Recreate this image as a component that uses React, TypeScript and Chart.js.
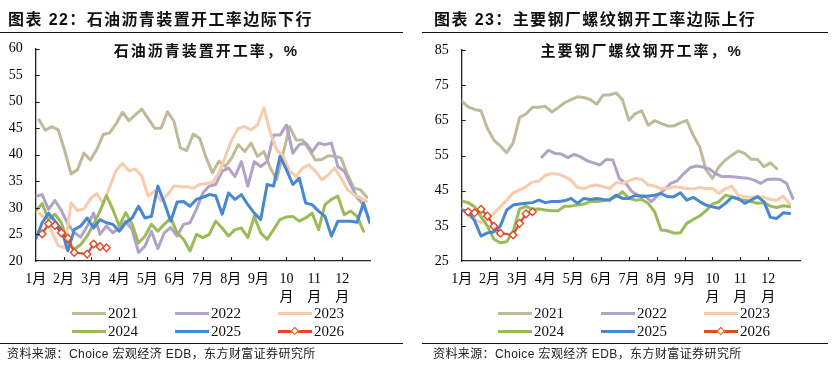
import React, { useEffect, useRef } from 'react';
import { Chart, registerables } from 'chart.js';

Chart.register(...registerables);

// ---------- shared labels ----------
const monthLabels: (string | string[])[] = ['1月', '2月', '3月', '4月', '5月', '6月', '7月', '8月', '9月', ['10', '月'], ['11', '月'], ['12', '月']];
const years = ['2021', '2022', '2023', '2024', '2025', '2026'];
const yearColors = ['#BFBB98', '#B3A2C7', '#F8CBAD', '#9BBB59', '#4788D0', '#DE4A25'];

// ---------- left chart: 石油沥青装置开工率 (weekly, %) ----------
const asphalt2021 = [46.6, 44.6, 45.3, 44.7, 40.8, 36.4, 37.2, 40.3, 39.0, 41.0, 43.8, 44.1, 45.8, 48.0, 46.4, 47.5, 48.6, 46.8, 45.0, 45.0, 48.1, 46.3, 41.3, 40.8, 43.9, 43.1, 39.5, 36.6, 38.8, 37.8, 39.4, 41.9, 40.6, 42.2, 39.7, 40.6, 37.5, 35.3, 40.3, 45.3, 42.8, 42.8, 41.0, 39.0, 39.1, 39.8, 39.7, 39.4, 36.3, 33.7, 33.4, 32.0];
const asphalt2022 = [32.2, 32.5, 29.7, 31.4, 29.5, 27.0, 25.3, 24.5, 26.5, 29.0, 25.0, 26.6, 25.3, 26.2, 27.5, 25.9, 21.6, 22.8, 25.6, 22.3, 25.3, 26.3, 24.7, 26.9, 27.2, 29.7, 32.8, 34.1, 34.4, 36.9, 37.5, 35.9, 38.7, 34.1, 38.7, 37.8, 38.7, 43.7, 43.7, 45.6, 40.3, 41.9, 42.2, 40.6, 42.2, 41.9, 42.2, 37.8, 36.9, 34.4, 31.9, 30.6, 27.2];
const asphalt2023 = [29.0, 28.0, 25.5, 22.9, 22.5, 30.9, 29.5, 29.8, 31.7, 32.7, 30.8, 33.9, 37.0, 38.4, 37.0, 37.3, 36.0, 32.2, 33.2, 31.3, 32.5, 34.1, 34.0, 34.0, 33.7, 34.4, 34.6, 34.8, 36.6, 39.7, 42.8, 45.0, 45.3, 44.7, 45.6, 48.8, 44.1, 40.9, 39.7, 36.9, 35.9, 37.5, 38.1, 36.9, 35.3, 36.2, 37.5, 35.6, 33.4, 32.5, 31.9, 31.2];
const asphalt2024 = [29.4, 30.8, 27.8, 28.8, 27.2, 23.4, 22.2, 23.1, 24.7, 26.9, 29.4, 32.3, 29.7, 26.6, 29.1, 26.9, 23.4, 24.7, 26.9, 25.6, 26.9, 28.1, 25.3, 24.1, 21.9, 25.0, 24.4, 25.0, 27.5, 26.2, 24.7, 25.9, 26.2, 24.4, 28.4, 25.3, 24.1, 25.9, 27.8, 28.3, 28.4, 27.5, 28.1, 29.0, 25.9, 30.6, 31.6, 32.2, 28.7, 29.4, 28.4, 25.6];
const asphalt2025 = [24.1, 27.2, 29.0, 27.5, 25.9, 21.9, 25.9, 26.6, 28.1, 26.2, 27.8, 27.2, 26.9, 25.6, 27.2, 28.1, 30.3, 28.1, 28.4, 34.1, 31.0, 27.5, 31.1, 31.2, 30.3, 31.6, 32.0, 32.5, 32.3, 28.8, 32.8, 31.6, 32.5, 30.6, 29.0, 27.8, 34.4, 34.1, 39.7, 37.2, 34.4, 35.6, 30.9, 30.6, 29.4, 28.4, 24.7, 27.5, 27.5, 27.5, 27.3, 30.9, 27.2];
const asphalt2026 = [25.1, 27.0, 26.7, 25.3, 24.3, 21.6, null, 21.3, 23.2, 22.7, 22.5];
// week number of each series' first observation
const asphaltStartWeek = [0.5, 0, 0.5, 0, 0, 1];

// ---------- right chart: 主要钢厂螺纹钢开工率 (weekly, %) ----------
const rebar2021 = [70.5, 68.8, 68.1, 67.7, 62.7, 59.4, 57.7, 55.8, 58.6, 65.8, 66.8, 68.7, 68.7, 69.0, 67.4, 68.6, 70.0, 70.9, 71.7, 71.5, 70.9, 69.6, 72.2, 72.2, 72.8, 70.9, 65.0, 66.9, 67.7, 63.6, 64.9, 64.1, 63.4, 63.4, 64.3, 65.0, 60.8, 57.5, 50.9, 48.5, 51.8, 53.7, 55.1, 56.3, 55.6, 53.9, 53.9, 51.8, 52.9, 51.3];
const rebar2022 = [54.6, 56.5, 55.6, 55.4, 54.4, 55.3, 54.6, 53.5, 52.9, 52.3, 53.9, 53.7, 48.5, 47.1, 44.7, 43.7, 43.5, 41.9, 43.7, 45.2, 47.1, 47.8, 49.8, 51.5, 52.0, 51.7, 51.2, 49.8, 49.0, 49.0, 48.9, 48.7, 48.5, 48.0, 47.1, 48.2, 48.3, 48.2, 47.1, 42.8];
const rebar2023 = [40.0, 38.0, 36.8, 35.9, 36.6, 38.5, 40.4, 42.3, 44.4, 45.2, 46.1, 47.5, 47.7, 49.4, 49.9, 49.7, 49.0, 48.0, 45.9, 45.6, 46.3, 46.6, 46.1, 45.6, 47.3, 47.1, 47.8, 48.5, 48.2, 46.6, 46.3, 45.6, 45.6, 46.1, 45.9, 45.6, 45.5, 45.9, 45.6, 45.6, 44.2, 45.6, 46.3, 43.7, 43.3, 43.1, 43.3, 43.1, 42.5, 42.3, 43.5, 41.2];
const rebar2024 = [42.1, 41.6, 40.4, 37.6, 34.9, 31.2, 30.2, 30.5, 33.5, 39.8, 40.5, 39.7, 39.8, 39.5, 39.3, 39.3, 40.6, 40.6, 40.9, 41.2, 41.9, 41.9, 42.1, 42.5, 43.3, 44.7, 42.8, 42.3, 42.5, 41.4, 39.0, 33.8, 33.6, 32.9, 33.0, 35.7, 36.8, 37.8, 39.3, 41.2, 41.9, 43.7, 43.3, 42.5, 42.3, 41.9, 41.4, 41.6, 40.6, 40.2, 40.7, 40.4];
const rebar2025 = [39.5, 39.0, 36.5, 32.1, 33.0, 33.3, 34.9, 39.5, 40.9, 41.2, 41.4, 41.6, 42.3, 41.6, 41.9, 41.9, 42.1, 42.8, 41.4, 42.8, 42.5, 42.8, 42.5, 42.3, 43.7, 42.8, 42.8, 43.7, 43.3, 43.5, 43.7, 44.2, 43.3, 43.3, 44.4, 42.3, 43.1, 41.9, 40.9, 40.4, 40.0, 41.4, 43.1, 42.8, 41.4, 42.3, 43.3, 41.9, 37.4, 37.1, 38.7, 38.5];
const rebar2026 = [39.0, 38.7, 39.7, 37.8, 34.9, 32.9, null, 32.4, 35.7, 38.4, 39.0];
const rebarStartWeek = [0, 12.5, 0, 0, 0, 1];

const SERIF = '"Times New Roman", "Liberation Serif", "Noto Sans CJK SC", serif';
const CJK = '"Liberation Sans", Arial, "Noto Sans CJK SC", sans-serif';

function buildDatasets(series: (number | null)[][], starts: number[]) {
  return series.map((vals, si) => {
    const last = si === 5;
    return {
      label: years[si],
      data: vals.map((v, i) => ({ x: ((starts[si] + i) * 12) / 52, y: v })),
      borderColor: yearColors[si],
      backgroundColor: yearColors[si],
      borderWidth: last ? 2.2 : 3,
      borderJoinStyle: 'round' as const,
      borderCapStyle: 'round' as const,
      tension: 0,
      spanGaps: true,
      order: 5 - si,
      pointRadius: last ? 3.8 : 0,
      pointStyle: 'rectRot' as const,
      pointBackgroundColor: '#ffffff',
      pointBorderColor: yearColors[si],
      pointBorderWidth: 1.4,
    };
  });
}

const innerTicks = {
  id: 'innerTicks',
  afterDraw(chart: any) {
    const { ctx, chartArea, scales } = chart;
    ctx.save();
    ctx.strokeStyle = '#222';
    ctx.lineWidth = 1.1;
    for (let m = 1; m <= 11; m++) {
      const px = Math.round(scales.x.getPixelForValue(m)) + 0.5;
      ctx.beginPath();
      ctx.moveTo(px, chartArea.bottom);
      ctx.lineTo(px, chartArea.bottom - 4);
      ctx.stroke();
    }
    scales.y.ticks.forEach((t: any) => {
      if (t.value === scales.y.min) return;
      const py = Math.round(scales.y.getPixelForValue(t.value)) + 0.5;
      ctx.beginPath();
      ctx.moveTo(chartArea.left, py);
      ctx.lineTo(chartArea.left + 4, py);
      ctx.stroke();
    });
    ctx.restore();
  },
};

interface PanelChartProps {
  left: number;
  series: (number | null)[][];
  starts: number[];
  yMin: number;
  yMax: number;
  yStep: number;
  xMax: number;
  padTop: number;
  padRight: number;
}

function PanelChart({ left, series, starts, yMin, yMax, yStep, xMax, padTop, padRight }: PanelChartProps) {
  const ref = useRef<HTMLCanvasElement>(null);
  useEffect(() => {
    const chart = new Chart(ref.current as HTMLCanvasElement, {
      type: 'line',
      data: { datasets: buildDatasets(series, starts) as any },
      options: {
        animation: false,
        responsive: false,
        maintainAspectRatio: false,
        layout: { padding: { left: 0, right: padRight, top: padTop, bottom: 1 } },
        plugins: { legend: { display: false }, tooltip: { enabled: false }, title: { display: false } },
        scales: {
          x: {
            type: 'linear',
            min: 0,
            max: xMax,
            afterBuildTicks: (axis: any) => {
              axis.ticks = monthLabels.map((_, i) => ({ value: i }));
            },
            afterFit: (s: any) => {
              s.height = 50;
            },
            ticks: {
              autoSkip: false,
              maxRotation: 0,
              minRotation: 0,
              padding: 10,
              color: '#000',
              font: { family: SERIF, size: 14, lineHeight: 1.25 },
              callback: (_v: any, i: number) => monthLabels[i] as any,
            },
            grid: { display: true, drawOnChartArea: false, drawTicks: false },
            border: { display: true, color: '#222', width: 1.3 },
          },
          y: {
            min: yMin,
            max: yMax,
            afterFit: (s: any) => {
              s.width = 35.7;
            },
            ticks: {
              stepSize: yStep,
              padding: 13,
              color: '#000',
              font: { family: SERIF, size: 14 },
            },
            grid: { display: true, drawOnChartArea: false, drawTicks: false },
            border: { display: true, color: '#222', width: 1.3 },
          },
        },
      },
      plugins: [innerTicks],
    });
    return () => chart.destroy();
  }, []);
  return (
    <canvas
      ref={ref}
      width={410}
      height={312}
      style={{ position: 'absolute', left, top: 0, width: 410, height: 312 }}
    />
  );
}

function Legend({ left }: { left: number }) {
  const cols = [72, 175, 278];
  const rows = [313, 331];
  return (
    <>
      {years.map((y, i) => {
        const x = left + cols[i % 3];
        const cy = rows[Math.floor(i / 3)];
        return (
          <React.Fragment key={y}>
            <div style={{ position: 'absolute', left: x, top: cy - 1.5, width: 34, height: 3, background: yearColors[i] }} />
            {i === 5 && (
              <div
                style={{
                  position: 'absolute',
                  left: x + 17 - 3.25,
                  top: cy - 3.25,
                  width: 3.5,
                  height: 3.5,
                  border: `1.5px solid ${yearColors[i]}`,
                  background: '#fff',
                  transform: 'rotate(45deg)',
                }}
              />
            )}
            <div
              style={{
                position: 'absolute',
                left: x + 36,
                top: cy - 10,
                lineHeight: '20px',
                fontFamily: SERIF,
                fontSize: 15,
                color: '#111',
                whiteSpace: 'nowrap',
              }}
            >
              {y}
            </div>
          </React.Fragment>
        );
      })}
    </>
  );
}

function Panel(props: {
  offset: number;
  title: string;
  inner: string;
  innerCenter: number;
  ruleLeft: number;
  ruleRight: number;
}) {
  const { offset, title, inner, innerCenter, ruleLeft, ruleRight } = props;
  return (
    <>
      <div
        style={{
          position: 'absolute',
          left: offset + 8,
          top: 9,
          lineHeight: '21px',
          fontFamily: CJK,
          fontWeight: 700,
          fontSize: 16,
          letterSpacing: 1.4,
          color: '#111',
          whiteSpace: 'nowrap',
        }}
      >
        {title}
      </div>
      <div style={{ position: 'absolute', left: ruleLeft, top: 31.5, width: ruleRight - ruleLeft, height: 1.5, background: '#111' }} />
      <div
        style={{
          position: 'absolute',
          left: innerCenter - 150,
          width: 300,
          top: 41,
          lineHeight: '19px',
          textAlign: 'center',
          fontFamily: CJK,
          fontWeight: 700,
          fontSize: 15,
          letterSpacing: 2,
          color: '#111',
          whiteSpace: 'nowrap',
        }}
      >
        {inner}
      </div>
      <Legend left={offset} />
      <div style={{ position: 'absolute', left: ruleLeft, top: 342.8, width: ruleRight - ruleLeft, height: 1.3, background: '#111' }} />
      <div
        style={{
          position: 'absolute',
          left: offset + 7,
          top: 346,
          lineHeight: '16px',
          fontFamily: CJK,
          fontSize: 12,
          letterSpacing: 0.4,
          color: '#222',
          whiteSpace: 'nowrap',
        }}
      >
        资料来源：Choice 宏观经济 EDB，东方财富证券研究所
      </div>
    </>
  );
}

export default function App() {
  return (
    <div style={{ position: 'absolute', left: 0, top: 0, width: 838, height: 392, background: '#fff', overflow: 'hidden' }}>
      <PanelChart
        left={0}
        series={[asphalt2021, asphalt2022, asphalt2023, asphalt2024, asphalt2025, asphalt2026]}
        starts={asphaltStartWeek}
        yMin={20}
        yMax={60}
        yStep={5}
        xMax={12}
        padTop={48.5}
        padRight={40}
      />
      <PanelChart
        left={426}
        series={[rebar2021, rebar2022, rebar2023, rebar2024, rebar2025, rebar2026]}
        starts={rebarStartWeek}
        yMin={25}
        yMax={85}
        yStep={10}
        xMax={12.14}
        padTop={50}
        padRight={36}
      />
      <Panel
        offset={0}
        title="图表 22：石油沥青装置开工率边际下行"
        inner="石油沥青装置开工率，%"
        innerCenter={206.5}
        ruleLeft={0}
        ruleRight={403}
      />
      <Panel
        offset={426}
        title="图表 23：主要钢厂螺纹钢开工率边际上行"
        inner="主要钢厂螺纹钢开工率，%"
        innerCenter={641.7}
        ruleLeft={421.5}
        ruleRight={828}
      />
    </div>
  );
}
